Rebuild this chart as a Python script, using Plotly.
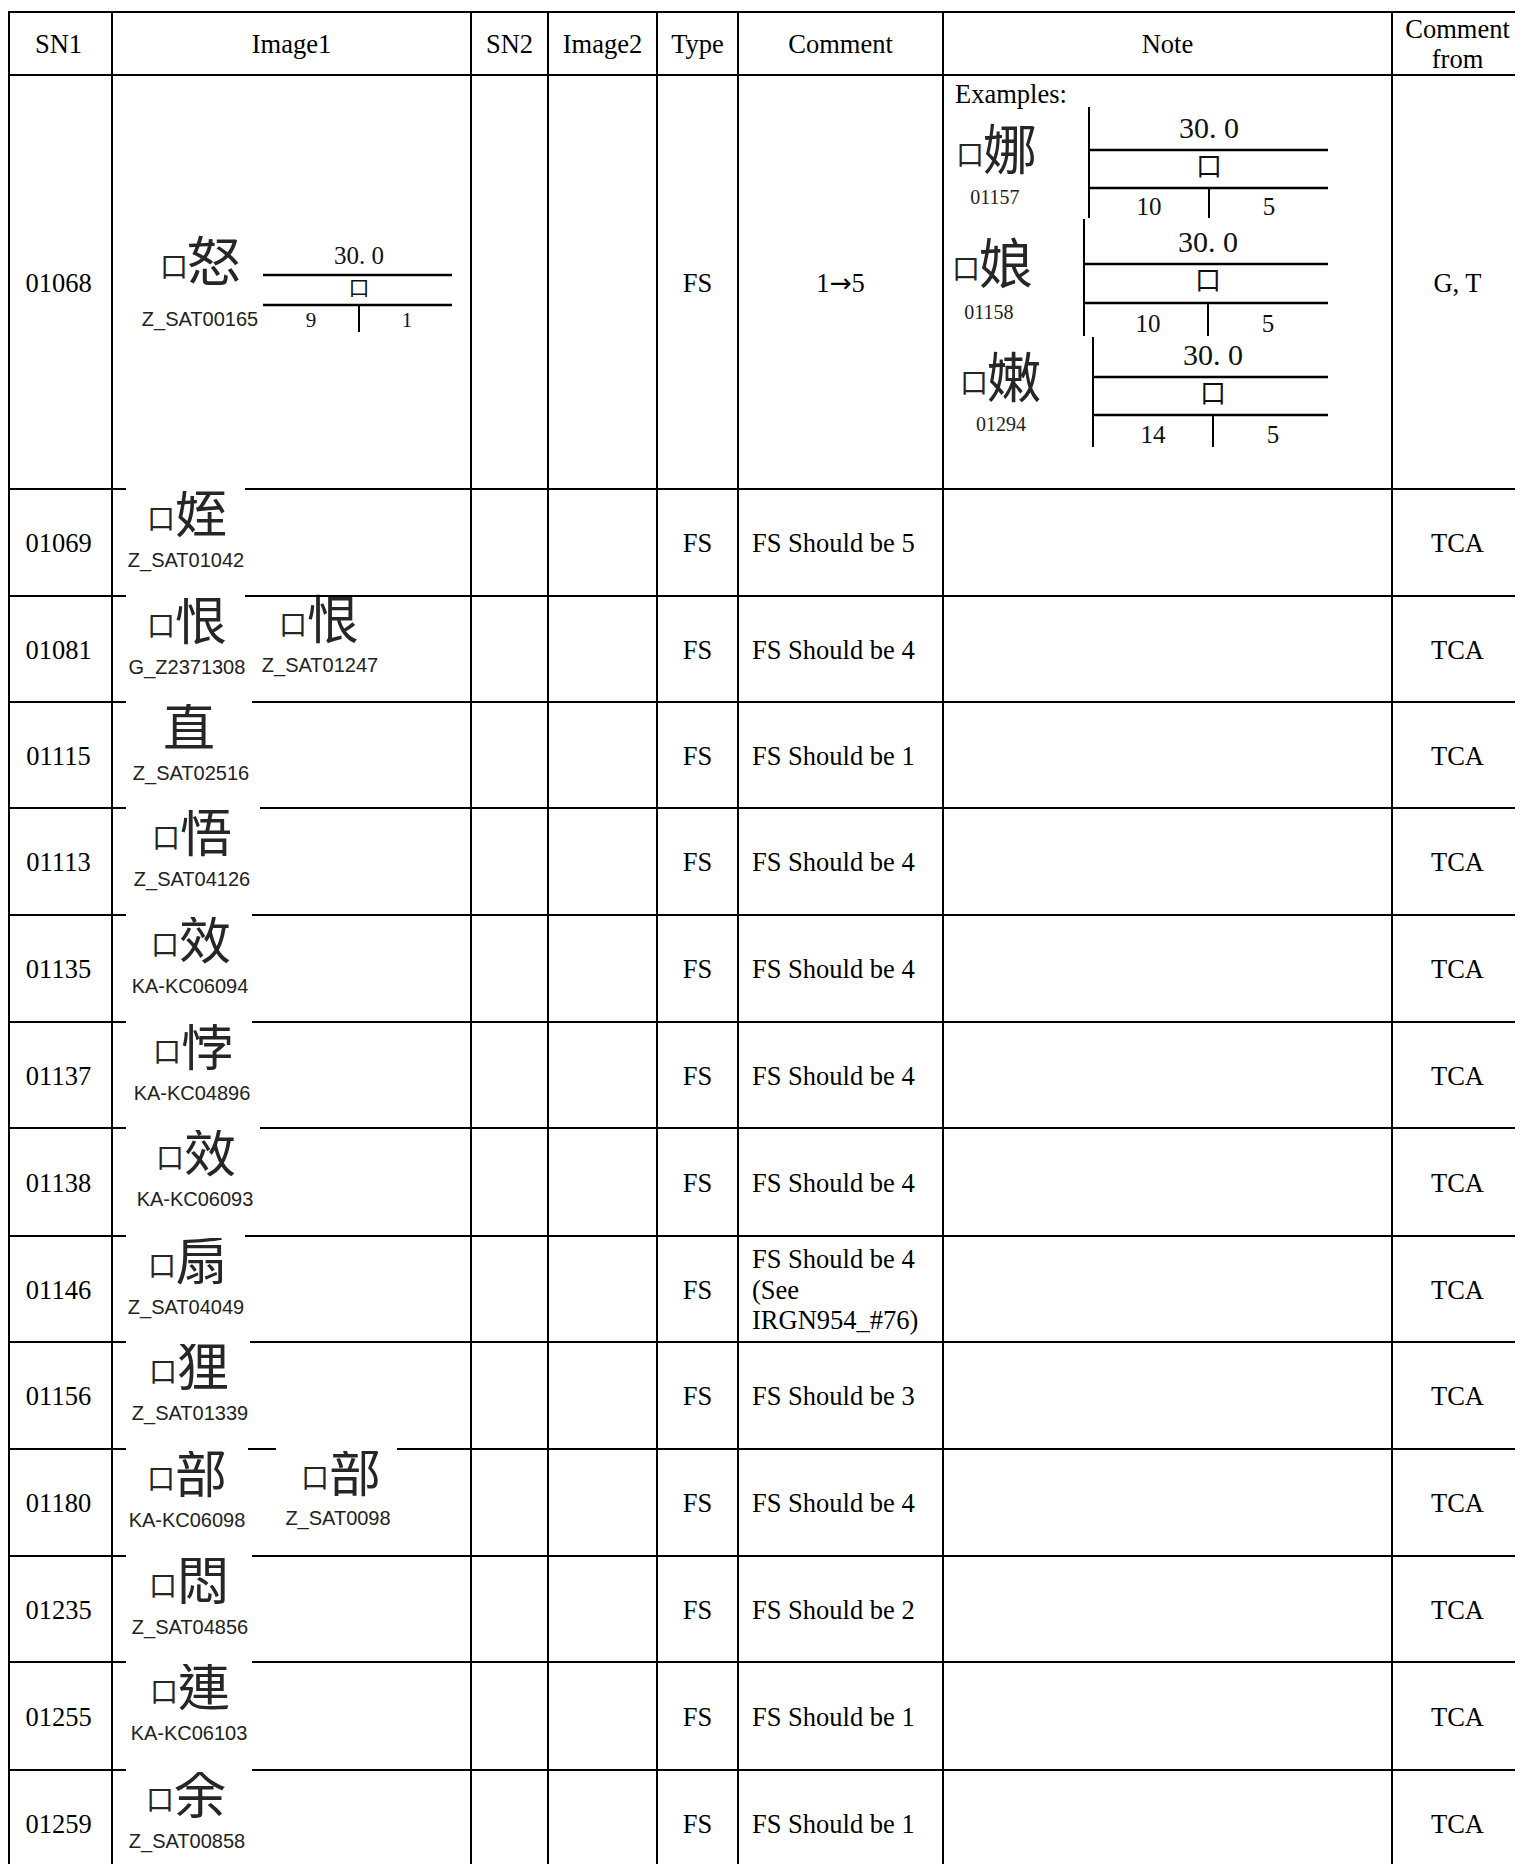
import plotly.graph_objects as go

# ---------------- data ----------------
header = ["SN1", "Image1", "SN2", "Image2", "Type", "Comment", "Note", "Comment<br>from"]
sn1 = ["01068", "01069", "01081", "01115", "01113", "01135", "01137", "01138",
       "01146", "01156", "01180", "01235", "01255", "01259"]
types = ["FS", "FS", "FS", "FS", "FS", "FS", "FS", "FS", "FS", "FS", "FS", "FS", "FS", "FS"]
comments = ["1→5", "FS Should be 5", "FS Should be 4", "FS Should be 1", "FS Should be 4",
            "FS Should be 4", "FS Should be 4", "FS Should be 4",
            "FS Should be 4<br>(See<br>IRGN954_#76)", "FS Should be 3", "FS Should be 4",
            "FS Should be 2", "FS Should be 1", "FS Should be 1"]
comment_from = ["G, T", "TCA", "TCA", "TCA", "TCA", "TCA", "TCA", "TCA", "TCA", "TCA",
                "TCA", "TCA", "TCA", "TCA"]
# glyph images: right-hand component (drawn beside the 口 radical) and source IDs
glyph_parts = [["怒"], ["姪"], ["恨", "恨"], ["直"], ["悟"], ["效"], ["悖"], ["效"],
               ["扇"], ["狸"], ["部", "部"], ["悶"], ["連"], ["余"]]
glyph_mouth = [True, True, True, False, True, True, True, True, True, True, True, True, True, True]
glyph_sources = [["Z_SAT00165"], ["Z_SAT01042"], ["G_Z2371308", "Z_SAT01247"], ["Z_SAT02516"],
                 ["Z_SAT04126"], ["KA-KC06094"], ["KA-KC04896"], ["KA-KC06093"],
                 ["Z_SAT04049"], ["Z_SAT01339"], ["KA-KC06098", "Z_SAT0098"], ["Z_SAT04856"],
                 ["KA-KC06103"], ["Z_SAT00858"]]
fs_main = ["30. 0", "口", "9", "1"]
note_title = "Examples:"
note_parts = ["娜", "娘", "嫩"]
note_sn = ["01157", "01158", "01294"]
note_top = ["30. 0", "30. 0", "30. 0"]
note_mid = ["口", "口", "口"]
note_left = ["10", "10", "14"]
note_right = ["5", "5", "5"]

# ---------------- layout constants ----------------
OFF = 8
W, H = 1523, 1872
col_edges = [5, 112, 471, 548, 657, 738, 943, 1392, 1523]
row_edges = [12, 75, 489, 596, 702, 808, 915, 1022, 1128, 1236, 1342, 1449, 1556, 1662, 1770, 1877]
LEFT_LINE_X = 9
SERIF = "Liberation Serif, Times New Roman, serif"
SANS = "Liberation Sans, Arial, sans-serif"
CJK = "Noto Sans CJK TC, Noto Sans CJK SC, sans-serif"
FS_MAIN = 26.5
TY = 3          # baseline correction for serif texts
LINE_PITCH = 30.5
GLYPH_COLOR = "#262626"

glyph_x = [None, 188, 188, 189, 193, 192, 194, 197, 189, 190, 188, 190, 191, 187]
label_x = [None, 186, 187, 191, 192, 190, 192, 195, 186, 190, 187, 190, 189, 187]
second_x = {2: (320, 320), 10: (342, 338)}
gaps = {2: [(126, 245)], 3: [(126, 245)], 4: [(126, 252)], 5: [(126, 260)], 6: [(126, 252)],
        7: [(126, 252)], 8: [(126, 260)], 9: [(126, 245)], 10: [(126, 250)],
        11: [(126, 248), (276, 397)], 12: [(126, 252)], 13: [(126, 252)], 14: [(126, 252)]}

fig = go.Figure()
shapes = []


def hline(x0, x1, y, w=2):
    shapes.append(dict(type="line", xref="x", yref="y", x0=x0, x1=x1, y0=y, y1=y,
                       line=dict(color="black", width=w)))


def vline(x, y0, y1, w=2):
    shapes.append(dict(type="line", xref="x", yref="y", x0=x, x1=x, y0=y0, y1=y1,
                       line=dict(color="black", width=w)))


# grid
for y in row_edges[:-1]:
    hline(LEFT_LINE_X - 1, W + 5, y)
vline(LEFT_LINE_X, row_edges[0], H + 10)
for x in col_edges[1:-1]:
    vline(x, row_edges[0], H + 10)
# white image backgrounds that cover the top rule of some rows
for r, lst in gaps.items():
    y = row_edges[r]
    for (a, b) in lst:
        shapes.append(dict(type="rect", xref="x", yref="y", x0=a, x1=b, y0=y - 2.5, y1=y + 2,
                           line=dict(width=0), fillcolor="white"))

texts = {}


def add_text(key, x, y, t):
    texts.setdefault(key, ([], [], []))
    texts[key][0].append(x)
    texts[key][1].append(y)
    texts[key][2].append(t)


def add_lines(key, x, cy, t):
    parts = t.split("<br>")
    n = len(parts)
    for j, p in enumerate(parts):
        add_text(key, x, cy + (j - (n - 1) / 2) * LINE_PITCH, p)


col_c = [(col_edges[i] + col_edges[i + 1]) / 2 for i in range(len(col_edges) - 1)]
hy = (row_edges[0] + row_edges[1]) / 2 + TY
for c, h in zip(col_c, header):
    add_lines("serif_c", c, hy, h)

ARROW = "<span style='font-family:DejaVu Sans'>→</span>"
for i in range(len(sn1)):
    top, bot = row_edges[i + 1], row_edges[i + 2]
    cy = (top + bot) / 2 + TY
    add_text("serif_c", col_c[0], cy, sn1[i])
    add_text("serif_c", col_c[4], cy, types[i])
    add_text("serif_c", col_c[7], cy, comment_from[i])
    if i == 0:
        add_text("serif_c", col_c[5], cy, comments[i].replace("→", ARROW))
    else:
        add_lines("serif_l", col_edges[5] + 14, cy, comments[i])

label_key = "label"


def add_glyph(cx, cy, part, mouth, label, lx, ly, big=False):
    gk, mk = ("glyph_b", "mouth_b") if big else ("glyph", "mouth")
    if mouth:
        add_text(mk, cx - 27, cy + 2, "口")
        add_text(gk, cx + 13, cy, part)
    else:
        add_text(gk, cx, cy, part)
    add_text(label_key, lx, ly, label)


# row 1 image
add_glyph(201, 268, glyph_parts[0][0], glyph_mouth[0], glyph_sources[0][0], 200, 321, big=True)
for i in range(1, len(sn1)):
    top = row_edges[i + 1]
    add_glyph(glyph_x[i], top + 31, glyph_parts[i][0], glyph_mouth[i], glyph_sources[i][0],
              label_x[i], top + 73)
    if len(glyph_parts[i]) > 1:
        gx, lx = second_x[i]
        add_glyph(gx, top + 30, glyph_parts[i][1], glyph_mouth[i], glyph_sources[i][1],
                  lx, top + 71)

# note examples
add_text("serif_l", 955, 93 + TY, note_title)
label_key = "note_label"
note_pos = [((997, 156), (995, 199)), ((993, 270), (989, 314)), ((1001, 384), (1001, 426))]
for k in range(3):
    (gx, gy), (lx, ly) = note_pos[k]
    add_glyph(gx, gy, note_parts[k], True, note_sn[k], lx, ly, big=True)


def add_fs(x0, x1, ya, yb, yc, xt, dx, dtop, dnum, vals, sizes, bar_top=None, lw=2.5):
    hline(x0, x1, ya, lw)
    hline(x0, x1, yb, lw)
    vline(xt, yb, yc, 2)
    if bar_top is not None:
        vline(x0, bar_top, yc, 2)
    add_text(sizes[0], xt, ya - dtop, vals[0])
    add_text(sizes[1], xt, (ya + yb) / 2, vals[1])
    add_text(sizes[2], xt - dx, (yb + yc) / 2 + dnum, vals[2])
    add_text(sizes[2], xt + dx, (yb + yc) / 2 + dnum, vals[3])


add_fs(263, 452, 275, 305, 332, 359, 48, 17, 3, fs_main, ("fs_top_s", "box_s", "fs_num_s"))
note_geo = [(1089, 150, 188, 218, 1209, 107), (1084, 264, 303, 336, 1208, 219),
            (1093, 377, 415, 447, 1213, 337)]
for k, (bx, ya, yb, yc, xt, bt) in enumerate(note_geo):
    add_fs(bx, 1328, ya, yb, yc, xt, 60, 20, 6,
           [note_top[k], note_mid[k], note_left[k], note_right[k]],
           ("fs_top_l", "box_l", "fs_num_l"), bar_top=bt)

styles = {
    "serif_c": (SERIF, FS_MAIN, "black", "middle center"),
    "serif_l": (SERIF, FS_MAIN, "black", "middle right"),
    "glyph": (CJK, 52, GLYPH_COLOR, "middle center"),
    "mouth": (CJK, 28, GLYPH_COLOR, "middle center"),
    "glyph_b": (CJK, 54, GLYPH_COLOR, "middle center"),
    "mouth_b": (CJK, 28, GLYPH_COLOR, "middle center"),
    "label": (SANS, 20, "#222222", "middle center"),
    "note_label": (SERIF, 20, "#222222", "middle center"),
    "fs_top_s": (SERIF, 25, "#111111", "middle center"),
    "fs_num_s": (SERIF, 21, "#111111", "middle center"),
    "box_s": (CJK, 21, "#111111", "middle center"),
    "fs_top_l": (SERIF, 30, "#111111", "middle center"),
    "fs_num_l": (SERIF, 25, "#111111", "middle center"),
    "box_l": (CJK, 26, "#111111", "middle center"),
}
for key, (xs, ys, ts) in texts.items():
    fam, size, color, pos = styles[key]
    fig.add_trace(go.Scatter(x=xs, y=ys, text=ts, mode="text", textposition=pos,
                             textfont=dict(family=fam, size=size, color=color),
                             hoverinfo="skip", showlegend=False, cliponaxis=False))

fig.update_layout(
    width=W - 2 * OFF, height=H - 2 * OFF,
    margin=dict(l=0, r=0, t=0, b=0, pad=0),
    paper_bgcolor="white", plot_bgcolor="white",
    xaxis=dict(range=[OFF, W - OFF], visible=False, fixedrange=True),
    yaxis=dict(range=[H - OFF, OFF], visible=False, fixedrange=True),
    shapes=shapes,
    showlegend=False,
)
fig.write_html("out.html")
